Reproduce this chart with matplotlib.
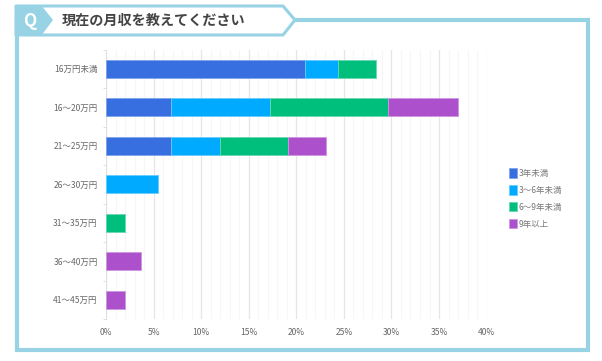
import numpy as np
import matplotlib
matplotlib.use("Agg")
import matplotlib.pyplot as plt
from matplotlib.patches import Polygon, Rectangle

plt.rcParams['font.family'] = ['Noto Sans CJK JP', 'DejaVu Sans']

categories = ["16万円未満", "16～20万円", "21～25万円", "26～30万円", "31～35万円", "36～40万円", "41～45万円"]
series_names = ["3年未満", "3～6年未満", "6～9年未満", "9年以上"]
under3 = [20.9, 6.8, 6.8, 0, 0, 0, 0]
y3to6 = [3.5, 10.4, 5.2, 5.5, 0, 0, 0]
y6to9 = [4.0, 12.4, 7.1, 0, 2.0, 0, 0]
over9 = [0, 7.4, 4.0, 0, 0, 3.7, 2.0]
colors = ["#376fe0", "#00aaff", "#00bf7d", "#ad50cc"]
edges = ["#7fa3ea", "#66ccff", "#66d8b0", "#cf96e3"]
xticks = [0, 5, 10, 15, 20, 25, 30, 35, 40]

W, H = 602, 361
fig = plt.figure(figsize=(W / 100, H / 100), dpi=100)

# frame and title tab, drawn in pixel coordinates
bg = fig.add_axes([0, 0, 1, 1])
bg.set_xlim(0, W)
bg.set_ylim(H, 0)
bg.axis("off")
line = "#97d2e5"
bg.add_patch(Rectangle((17, 20), 570.5, 330, fc="white", ec=line, lw=3, zorder=1))
bg.add_patch(Polygon([(16, 6), (283, 6), (295, 20), (283, 35), (16, 35)],
                     closed=True, fc="white", ec=line, lw=2.2, joinstyle="round", zorder=2))
bg.add_patch(Polygon([(15, 5), (41, 5), (53, 20), (41, 36), (15, 36)],
                     closed=True, fc=line, ec="none", zorder=3))
bg.text(30, 21, "Q", color="white", fontsize=12.5, fontweight="bold",
        ha="center", va="center", zorder=4)
bg.text(62, 20.5, "現在の月収を教えてください", color="#444444", fontsize=10.2,
        fontweight="bold", ha="left", va="center", zorder=4)

ax = fig.add_axes([106 / W, 1 - 319 / H, (486.6 - 106) / W, (319 - 49.5) / H])
y = np.arange(len(categories))
left = np.zeros(len(categories))
for name, vals, c, e in zip(series_names, [under3, y3to6, y6to9, over9], colors, edges):
    vals = np.array(vals, dtype=float)
    keep = vals > 0
    ax.barh(y[keep], vals[keep], left=left[keep], height=0.48, color=c, edgecolor=e,
            linewidth=0.6, label=name, zorder=3)
    left += vals

ax.set_xlim(0, 40)
ax.set_ylim(len(categories) - 0.5, -0.5)
ax.set_xticks(xticks)
ax.set_xticklabels([f"{t}%" for t in xticks])
ax.set_xticks(np.arange(0, 41), minor=True)
ax.set_yticks(y)
ax.set_yticklabels(categories)
ax.set_yticks(np.arange(-0.5, len(categories)), minor=True)
ax.tick_params(axis="x", which="both", length=0, labelsize=6.1, labelcolor="#666666", pad=6.5)
ax.tick_params(axis="y", which="major", length=0, labelsize=6.1, labelcolor="#666666", pad=6)
ax.tick_params(axis="y", which="minor", length=2.2, width=0.7, color="#e0e0e0")
ax.grid(axis="x", which="minor", color="#f6f6f6", lw=0.8, zorder=0)
ax.grid(axis="x", which="major", color="#e6e6e6", lw=0.9, zorder=1)
for s in ["top", "right", "bottom"]:
    ax.spines[s].set_visible(False)
ax.spines["left"].set_color("#e0e0e0")
ax.spines["left"].set_linewidth(0.7)
ax.patch.set_alpha(0)

leg = ax.legend(loc="center left", bbox_to_anchor=(509 / W, 1 - 198.5 / H),
                bbox_transform=fig.transFigure, frameon=False, fontsize=6.1,
                labelcolor="#777777", handlelength=1.0, handleheight=1.3,
                handletextpad=0.1, labelspacing=0.88, borderpad=0, borderaxespad=0)

fig.savefig("out.png", dpi=100)
